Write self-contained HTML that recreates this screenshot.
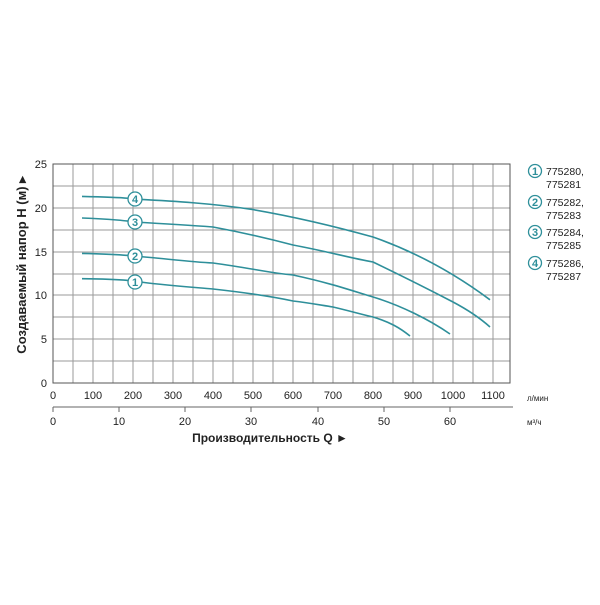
<!DOCTYPE html>
<html><head><meta charset="utf-8"><style>
body{margin:0;background:#fff;}
svg text{font-family:"Liberation Sans",sans-serif;fill:#222;}
</style></head><body>
<svg width="600" height="600" viewBox="0 0 600 600" xmlns="http://www.w3.org/2000/svg">
<g stroke="#9a9a9a" stroke-width="1">
<line x1="73" y1="164" x2="73" y2="383"/><line x1="93" y1="164" x2="93" y2="383"/><line x1="113" y1="164" x2="113" y2="383"/><line x1="133" y1="164" x2="133" y2="383"/><line x1="153" y1="164" x2="153" y2="383"/><line x1="173" y1="164" x2="173" y2="383"/><line x1="193" y1="164" x2="193" y2="383"/><line x1="213" y1="164" x2="213" y2="383"/><line x1="233" y1="164" x2="233" y2="383"/><line x1="253" y1="164" x2="253" y2="383"/><line x1="273" y1="164" x2="273" y2="383"/><line x1="293" y1="164" x2="293" y2="383"/><line x1="313" y1="164" x2="313" y2="383"/><line x1="333" y1="164" x2="333" y2="383"/><line x1="353" y1="164" x2="353" y2="383"/><line x1="373" y1="164" x2="373" y2="383"/><line x1="393" y1="164" x2="393" y2="383"/><line x1="413" y1="164" x2="413" y2="383"/><line x1="433" y1="164" x2="433" y2="383"/><line x1="453" y1="164" x2="453" y2="383"/><line x1="473" y1="164" x2="473" y2="383"/><line x1="493" y1="164" x2="493" y2="383"/>
<line x1="53" y1="186" x2="510" y2="186"/><line x1="53" y1="208" x2="510" y2="208"/><line x1="53" y1="230" x2="510" y2="230"/><line x1="53" y1="252" x2="510" y2="252"/><line x1="53" y1="274" x2="510" y2="274"/><line x1="53" y1="295" x2="510" y2="295"/><line x1="53" y1="317" x2="510" y2="317"/><line x1="53" y1="339" x2="510" y2="339"/><line x1="53" y1="361" x2="510" y2="361"/>
</g>
<rect x="53" y="164" width="457" height="219" fill="none" stroke="#555" stroke-width="1"/>
<g font-size="11" text-anchor="end">
<text x="47" y="168">25</text><text x="47" y="212">20</text><text x="47" y="256">15</text><text x="47" y="299">10</text><text x="47" y="343">5</text><text x="47" y="387">0</text>
</g>
<text transform="translate(26,265) rotate(-90)" font-size="13" font-weight="bold" text-anchor="middle">Создаваемый напор H (м) ▸</text>
<g font-size="11" text-anchor="middle">
<text x="53" y="399">0</text><text x="93" y="399">100</text><text x="133" y="399">200</text><text x="173" y="399">300</text><text x="213" y="399">400</text><text x="253" y="399">500</text><text x="293" y="399">600</text><text x="333" y="399">700</text><text x="373" y="399">800</text><text x="413" y="399">900</text><text x="453" y="399">1000</text><text x="493" y="399">1100</text>
</g>
<line x1="53" y1="407" x2="513" y2="407" stroke="#666"/>
<g stroke="#666"><line x1="53" y1="407" x2="53" y2="412"/><line x1="119" y1="407" x2="119" y2="412"/><line x1="185" y1="407" x2="185" y2="412"/><line x1="251" y1="407" x2="251" y2="412"/><line x1="318" y1="407" x2="318" y2="412"/><line x1="384" y1="407" x2="384" y2="412"/><line x1="450" y1="407" x2="450" y2="412"/></g>
<g font-size="11" text-anchor="middle">
<text x="53" y="425">0</text><text x="119" y="425">10</text><text x="185" y="425">20</text><text x="251" y="425">30</text><text x="318" y="425">40</text><text x="384" y="425">50</text><text x="450" y="425">60</text>
</g>
<text x="527" y="401" font-size="8">л/мин</text>
<text x="527" y="425" font-size="8">м³/ч</text>
<text x="270" y="442" font-size="12" font-weight="bold" text-anchor="middle">Производительность Q ►</text>
<g fill="none" stroke="#2e8f9a" stroke-width="1.6">
<path d="M82,196.4 C110,197 130,198 133,199 C170,201 210,203 253,209.6 C290,216 330,225 373,237 C410,250 450,270 490,299.8"/>
<path d="M82,218 C110,219 130,221 133,222 C170,224 200,226 213,227 C240,232 270,239 293,245 C330,252 350,258 373,262 C400,275 430,290 453,302 C470,311 480,318 490,327"/>
<path d="M82,253.4 C110,254 125,255 133,256 C160,258 190,262 213,263 C250,268 270,273 293,275 C330,283 350,290 373,297 C400,305 430,320 450,334"/>
<path d="M82,278.7 C110,279 125,280 133,281 C160,285 190,287 213,289 C240,292 270,296 293,301 C310,303 320,305 333,307 C350,311 360,314 373,317 C390,322 400,328 410,336"/>
</g>
<g font-size="11" font-weight="bold" fill="#2e8f9a" text-anchor="middle">
<circle cx="135" cy="199" r="7" fill="#fff" stroke="#2e8f9a" stroke-width="1.3"/><text x="135" y="203" style="fill:#2e8f9a">4</text>
<circle cx="135" cy="222" r="7" fill="#fff" stroke="#2e8f9a" stroke-width="1.3"/><text x="135" y="226" style="fill:#2e8f9a">3</text>
<circle cx="135" cy="256" r="7" fill="#fff" stroke="#2e8f9a" stroke-width="1.3"/><text x="135" y="260" style="fill:#2e8f9a">2</text>
<circle cx="135" cy="282" r="7" fill="#fff" stroke="#2e8f9a" stroke-width="1.3"/><text x="135" y="286" style="fill:#2e8f9a">1</text>
</g>
<g font-size="11" font-weight="bold" text-anchor="middle">
<circle cx="535" cy="171" r="6.5" fill="#fff" stroke="#2e8f9a" stroke-width="1.3"/><text x="535" y="175" style="fill:#2e8f9a">1</text>
<circle cx="535" cy="202" r="6.5" fill="#fff" stroke="#2e8f9a" stroke-width="1.3"/><text x="535" y="206" style="fill:#2e8f9a">2</text>
<circle cx="535" cy="232" r="6.5" fill="#fff" stroke="#2e8f9a" stroke-width="1.3"/><text x="535" y="236" style="fill:#2e8f9a">3</text>
<circle cx="535" cy="263" r="6.5" fill="#fff" stroke="#2e8f9a" stroke-width="1.3"/><text x="535" y="267" style="fill:#2e8f9a">4</text>
</g>
<g font-size="10.5">
<text x="546" y="175">775280,</text><text x="546" y="188">775281</text>
<text x="546" y="206">775282,</text><text x="546" y="219">775283</text>
<text x="546" y="236">775284,</text><text x="546" y="249">775285</text>
<text x="546" y="267">775286,</text><text x="546" y="280">775287</text>
</g>
</svg>
</body></html>
